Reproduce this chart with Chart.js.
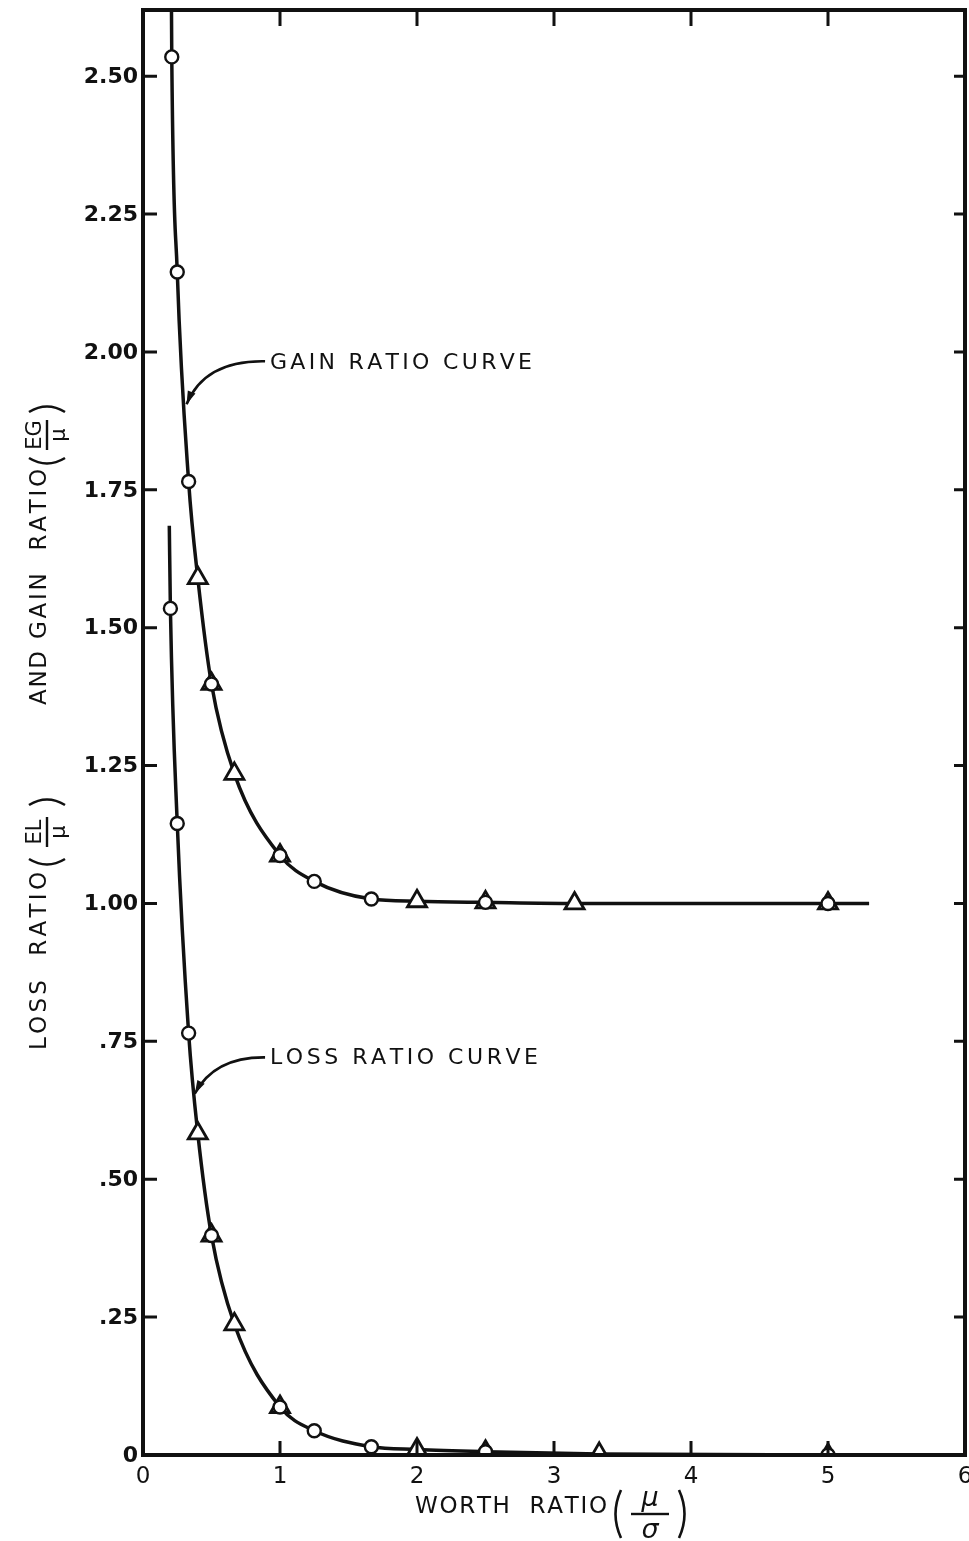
<!DOCTYPE html>
<html>
<head>
<meta charset="utf-8">
<script src="https://cdn.jsdelivr.net/npm/chart.js@4/dist/chart.umd.min.js"></script>
<style>
  body { margin: 0; background: #fff; }
  #wrap { width: 969px; height: 1541px; }
</style>
</head>
<body>
<div id="wrap"><canvas id="chart" width="969" height="1541"></canvas></div>
<script>
// values
const gainCircleX = [0.21, 0.25, 0.333, 0.5, 1.0, 1.25, 1.667, 2.5, 5.0];
const gainCircleY = [2.535, 2.145, 1.765, 1.398, 1.087, 1.040, 1.008, 1.002, 1.0];
const gainTriX = [0.4, 0.5, 0.667, 1.0, 2.0, 2.5, 3.15, 5.0];
const gainTriY = [1.59, 1.398, 1.235, 1.087, 1.004, 1.002, 1.0, 1.0];
const lossCircleX = [0.2, 0.25, 0.333, 0.5, 1.0, 1.25, 1.667, 2.5, 5.0];
const lossCircleY = [1.535, 1.145, 0.765, 0.398, 0.087, 0.044, 0.015, 0.006, 0.0];
const lossTriX = [0.4, 0.5, 0.667, 1.0, 2.0, 2.5, 3.33, 5.0];
const lossTriY = [0.583, 0.398, 0.237, 0.087, 0.010, 0.006, 0.002, 0.0];

// hand drawn curves (ends)
const gainCurveX = [0.207, 0.21, 0.25, 0.333, 0.4, 0.5, 0.667, 1.0, 1.25, 1.667, 2.0, 2.5, 3.15, 5.0, 5.3];
const gainCurveY = [2.66, 2.535, 2.145, 1.765, 1.59, 1.398, 1.235, 1.087, 1.040, 1.008, 1.004, 1.002, 1.0, 1.0, 1.0];
const lossCurveX = [0.192, 0.2, 0.25, 0.333, 0.4, 0.5, 0.667, 1.0, 1.25, 1.667, 2.0, 2.5, 3.33, 5.0, 5.3];
const lossCurveY = [1.685, 1.535, 1.145, 0.765, 0.583, 0.398, 0.237, 0.087, 0.044, 0.015, 0.010, 0.006, 0.002, 0.0, 0.0];

const xTicks = [0, 1, 2, 3, 4, 5, 6];
const xTickLabels = ["0", "1", "2", "3", "4", "5", "6"];
const yTicks = [0, 0.25, 0.5, 0.75, 1.0, 1.25, 1.5, 1.75, 2.0, 2.25, 2.5];
const yTickLabels = ["0", ".25", ".50", ".75", "1.00", "1.25", "1.50", "1.75", "2.00", "2.25", "2.50"];

const INK = "#111";
const FONT = "'DejaVu Sans', sans-serif";

function pts(xs, ys) {
    return xs.map((x, i) => ({ x: x, y: ys[i] }));
}

// draw text char by char so it fills a given width
function spaced(ctx, text, x, y, width) {
    const chars = text.split("");
    let natural = 0;
    chars.forEach(c => natural += ctx.measureText(c).width);
    const gap = chars.length > 1 ? (width - natural) / (chars.length - 1) : 0;
    let cx = x;
    chars.forEach(c => {
        ctx.fillText(c, cx, y);
        cx += ctx.measureText(c).width + gap;
    });
    return x + width;
}

function arrow(ctx, p0, p1, p2) {
    ctx.beginPath();
    ctx.moveTo(p0[0], p0[1]);
    ctx.quadraticCurveTo(p1[0], p1[1], p2[0], p2[1]);
    ctx.lineWidth = 2.6;
    ctx.stroke();
    const a = Math.atan2(p2[1] - p1[1], p2[0] - p1[0]);
    ctx.beginPath();
    ctx.moveTo(p2[0], p2[1]);
    ctx.lineTo(p2[0] - 14 * Math.cos(a - 0.3), p2[1] - 14 * Math.sin(a - 0.3));
    ctx.lineTo(p2[0] - 14 * Math.cos(a + 0.3), p2[1] - 14 * Math.sin(a + 0.3));
    ctx.closePath();
    ctx.fill();
}

function paren(ctx, x, top, bottom, depth) {
    // depth > 0 bulges left "(", depth < 0 bulges right ")"
    ctx.beginPath();
    ctx.moveTo(x, top);
    ctx.quadraticCurveTo(x - depth * 2, (top + bottom) / 2, x, bottom);
    ctx.stroke();
}

// fraction in parentheses, starting at x, fraction line at y = mid
function fracParen(ctx, x, mid, num, den, size, italic, half, inner, lineW) {
    ctx.save();
    ctx.lineWidth = 2.6;
    ctx.font = (italic ? "italic " : "") + size + "px " + FONT;
    ctx.textBaseline = "middle";
    ctx.textAlign = "center";
    const w = lineW;
    paren(ctx, x + 9, mid - half, mid + half, 5.5);
    const cx = x + 9 + inner + w / 2;
    ctx.fillText(num, cx, mid - size * 0.55);
    ctx.fillText(den, cx, mid + size * 0.62);
    ctx.fillRect(cx - w / 2, mid - 1.2, w, 2.4);
    const rx = cx + w / 2 + inner;
    paren(ctx, rx, mid - half, mid + half, -5.5);
    ctx.restore();
    return rx + 9;
}

const framePlugin = {
    id: "frame",
    afterDraw(chart) {
        const ctx = chart.ctx;
        const a = chart.chartArea;
        const xs = chart.scales.x, ys = chart.scales.y;
        ctx.save();
        ctx.strokeStyle = INK;
        ctx.fillStyle = INK;
        ctx.lineCap = "butt";

        // frame
        ctx.lineWidth = 4;
        ctx.strokeRect(a.left, a.top, a.right - a.left, a.bottom - a.top);

        // inward ticks
        ctx.lineWidth = 3;
        ctx.beginPath();
        yTicks.forEach(v => {
            if (v === 0) return;
            const py = ys.getPixelForValue(v);
            ctx.moveTo(a.left, py); ctx.lineTo(a.left + 14, py);
            ctx.moveTo(a.right, py); ctx.lineTo(a.right - 11, py);
        });
        xTicks.forEach(v => {
            if (v === 0 || v === 6) return;
            const px = xs.getPixelForValue(v);
            ctx.moveTo(px, a.bottom); ctx.lineTo(px, a.bottom - 14);
            ctx.moveTo(px, a.top); ctx.lineTo(px, a.top + 16);
        });
        ctx.stroke();

        // tick labels
        ctx.font = "bold 22px " + FONT;
        ctx.textAlign = "right";
        ctx.textBaseline = "middle";
        yTicks.forEach((v, i) => {
            ctx.fillText(yTickLabels[i], a.left - 5, ys.getPixelForValue(v) + 1);
        });
        ctx.font = "23px " + FONT;
        ctx.textAlign = "center";
        xTicks.forEach((v, i) => {
            ctx.fillText(xTickLabels[i], xs.getPixelForValue(v), a.bottom + 22);
        });

        // curve labels with arrows
        ctx.font = "22px " + FONT;
        ctx.textBaseline = "middle";
        ctx.textAlign = "left";
        const P = (x, y) => [xs.getPixelForValue(x), ys.getPixelForValue(y)];
        let t = P(0.927, 1.979);
        spaced(ctx, "GAIN RATIO CURVE", t[0], t[1], 262);
        arrow(ctx, P(0.891, 1.983), P(0.45, 1.985), P(0.318, 1.905));
        t = P(0.927, 0.719);
        spaced(ctx, "LOSS RATIO CURVE", t[0], t[1], 268);
        arrow(ctx, P(0.891, 0.721), P(0.52, 0.722), P(0.378, 0.655));

        // x axis title
        ctx.font = "23px " + FONT;
        const ty = a.bottom + 52;
        spaced(ctx, "WORTH  RATIO", 415, ty, 192);
        fracParen(ctx, 612, ty + 7, "\u03bc", "\u03c3", 27, true, 24, 10, 38);

        // y axis title, rotated (reads bottom to top)
        ctx.save();
        ctx.translate(40, 723);
        ctx.rotate(-Math.PI / 2);
        ctx.font = "23px " + FONT;
        ctx.textAlign = "left";
        ctx.textBaseline = "middle";
        spaced(ctx, "LOSS  RATIO", -327, 0, 178);
        fracParen(ctx, -145, 7, "EL", "\u03bc", 21, false, 18, 12, 30);
        spaced(ctx, "AND", 18, 0, 54);
        spaced(ctx, "GAIN  RATIO", 84, 0, 170);
        fracParen(ctx, 256, 7, "EG", "\u03bc", 21, false, 18, 8, 30);
        ctx.restore();

        ctx.restore();
    }
};

const circleStyle = {
    pointStyle: "circle",
    pointRadius: 6.5,
    pointBorderWidth: 2.4,
    pointBackgroundColor: "#fff",
    pointBorderColor: INK,
    showLine: false
};
const triStyle = {
    pointStyle: "triangle",
    pointRadius: 11,
    pointBorderWidth: 2.8,
    pointBackgroundColor: "#fff",
    pointBorderColor: INK,
    showLine: false
};
const curveStyle = {
    showLine: true,
    pointRadius: 0,
    borderColor: INK,
    borderWidth: 3.5,
    cubicInterpolationMode: "monotone"
};

new Chart(document.getElementById("chart"), {
    type: "scatter",
    data: {
        datasets: [
            Object.assign({ label: "gain (circles)", data: pts(gainCircleX, gainCircleY), order: 0 }, circleStyle),
            Object.assign({ label: "loss (circles)", data: pts(lossCircleX, lossCircleY), order: 0 }, circleStyle),
            Object.assign({ label: "gain (triangles)", data: pts(gainTriX, gainTriY), order: 1 }, triStyle),
            Object.assign({ label: "loss (triangles)", data: pts(lossTriX, lossTriY), order: 1 }, triStyle),
            Object.assign({ label: "gain ratio curve", data: pts(gainCurveX, gainCurveY), order: 2 }, curveStyle),
            Object.assign({ label: "loss ratio curve", data: pts(lossCurveX, lossCurveY), order: 2 }, curveStyle)
        ]
    },
    options: {
        responsive: false,
        animation: false,
        // no auto padding for the markers, the frame sits where the original has it
        layout: { autoPadding: false, padding: { top: 10, right: 4, left: 0, bottom: 0 } },
        plugins: { legend: { display: false }, tooltip: { enabled: false } },
        scales: {
            x: {
                type: "linear",
                min: 0,
                max: 6,
                afterBuildTicks: s => { s.ticks = xTicks.map(v => ({ value: v })); },
                afterFit: s => { s.height = 86; },
                grid: { display: false, drawTicks: false },
                border: { display: false },
                ticks: { display: false }
            },
            y: {
                type: "linear",
                min: 0,
                max: 2.62,
                afterBuildTicks: s => { s.ticks = yTicks.map(v => ({ value: v })); },
                afterFit: s => { s.width = 143; },
                grid: { display: false, drawTicks: false },
                border: { display: false },
                ticks: { display: false }
            }
        }
    },
    plugins: [framePlugin]
});
</script>
</body>
</html>
